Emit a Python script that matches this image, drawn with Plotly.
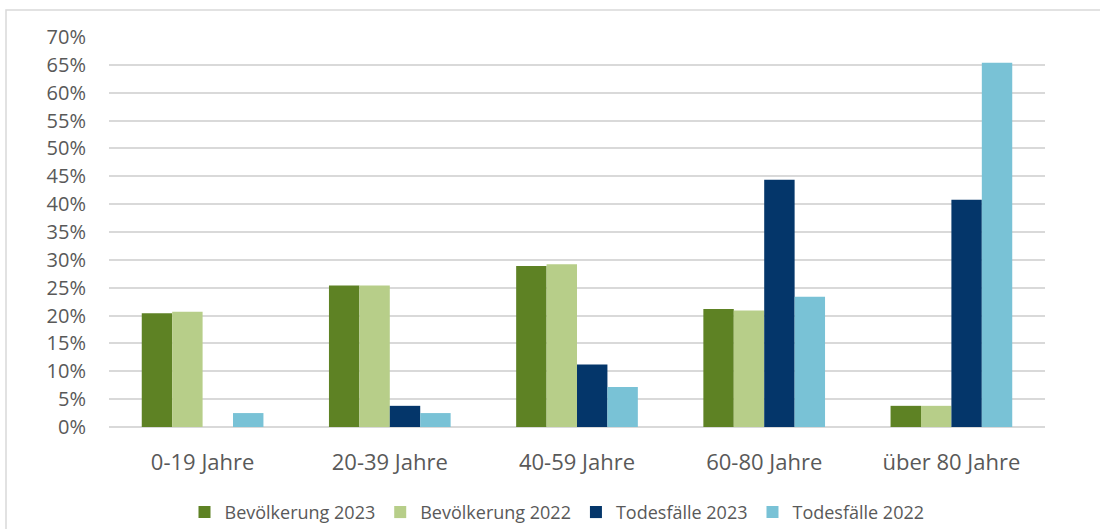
import plotly.graph_objects as go

categories = ["0-19 Jahre", "20-39 Jahre", "40-59 Jahre", "60-80 Jahre", "über 80 Jahre"]
bevoelkerung_2023 = [20.4, 25.4, 28.9, 21.2, 3.8]
bevoelkerung_2022 = [20.7, 25.4, 29.2, 20.9, 3.8]
todesfaelle_2023 = [0.0, 3.8, 11.2, 44.4, 40.8]
todesfaelle_2022 = [2.5, 2.5, 7.2, 23.4, 65.4]
y_ticks = list(range(0, 75, 5))

series = [
    ("Bevölkerung 2023", bevoelkerung_2023, "#5E8224"),
    ("Bevölkerung 2022", bevoelkerung_2022, "#B7CE89"),
    ("Todesfälle 2023", todesfaelle_2023, "#04366A"),
    ("Todesfälle 2022", todesfaelle_2022, "#79C2D6"),
]

fig = go.Figure()
for name, vals, color in series:
    fig.add_trace(go.Bar(
        name=name, x=categories, y=vals,
        marker=dict(color=color, line=dict(width=0)),
    ))

W, H = 1100, 529
ml, mr, mt, mb = 109, 55, 37, 101.5
pw, ph = W - ml - mr, H - mt - mb

def px_x(p):
    return (p - ml) / pw

def px_y(p):
    return (H - mb - p) / ph

fig.update_layout(
    width=W, height=H,
    margin=dict(l=ml, r=mr, t=mt, b=mb, pad=0, autoexpand=False),
    paper_bgcolor="white", plot_bgcolor="white",
    barmode="group", bargap=0.35, bargroupgap=0,
    font=dict(family="Open Sans", color="#595959"),
    showlegend=True,
    legend=dict(
        orientation="h", x=px_x(557), xanchor="center", y=px_y(513), yanchor="middle",
        font=dict(size=18, color="#595959"), traceorder="normal",
        itemwidth=30,
    ),
    xaxis=dict(
        showgrid=False, showline=False, zeroline=False, ticks="",
        tickfont=dict(size=22, color="#595959"), ticklabelstandoff=20,
    ),
    yaxis=dict(
        range=[0, 70], tickvals=y_ticks, ticktext=[f"{v}%" for v in y_ticks],
        showgrid=True, gridcolor="#D9D9D9", gridwidth=1.5,
        zeroline=True, zerolinecolor="#D9D9D9", zerolinewidth=1.5,
        showline=False, ticks="",
        tickfont=dict(size=20, color="#595959"), ticklabelstandoff=22,
    ),
    shapes=[dict(
        type="rect", xref="paper", yref="paper",
        x0=px_x(6), x1=px_x(1110), y0=px_y(545), y1=px_y(10),
        line=dict(color="#D9D9D9", width=1.5), fillcolor="rgba(0,0,0,0)",
        layer="below",
    )],
)

fig.write_html(
    "out.html",
    config={"displayModeBar": False},
    post_script="document.body.style.margin='0px';",
)
